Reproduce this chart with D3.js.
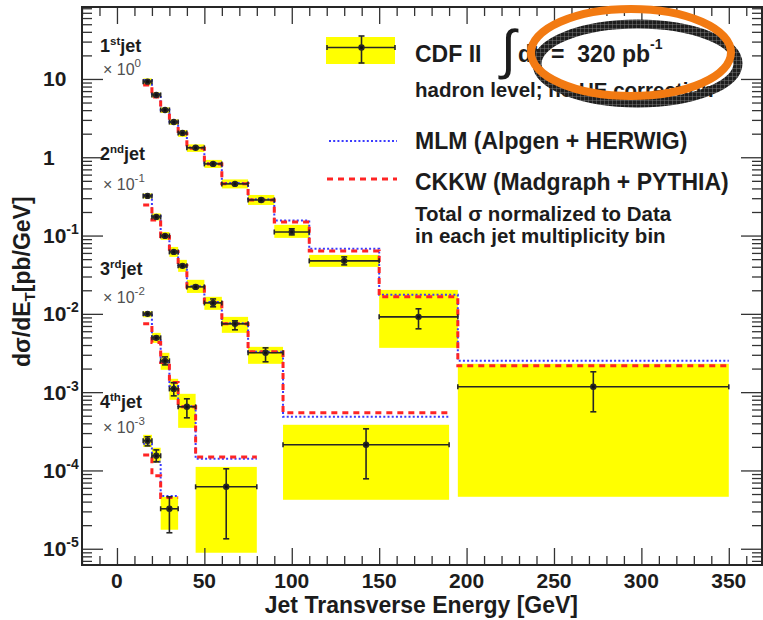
<!DOCTYPE html>
<html>
<head>
<meta charset="utf-8">
<script src="https://cdn.jsdelivr.net/npm/d3@7"></script>
<style>
    body { margin: 0; background: #fff; }
    svg { display: block; font-family: 'Liberation Sans', Arial, Helvetica, sans-serif; }
</style>
</head>
<body>
<svg width="763" height="620"></svg>
<script>
// one row per bin: [ET low, ET high, data, stat low, stat high, syst low, syst high, MLM, CKKW]
const jet1Bins = [
    [15, 20, 9.24, 9.05, 9.43, 8.26, 10.15, 9.7, 8.4],
    [20, 25, 6.25, 6.12, 6.38, 5.81, 6.72, 6.43, 5.89],
    [25, 30, 4.02, 3.94, 4.10, 3.68, 4.33, 4.05, 3.95],
    [30, 35, 2.82, 2.76, 2.88, 2.59, 3.04, 2.85, 2.80],
    [35, 40, 2.04, 2.00, 2.08, 1.82, 2.23, 2.05, 2.00],
    [40, 50, 1.32, 1.29, 1.35, 1.17, 1.46, 1.33, 1.30],
    [50, 60, 0.822, 0.80, 0.845, 0.731, 0.925, 0.84, 0.82],
    [60, 75, 0.457, 0.443, 0.471, 0.40, 0.521, 0.47, 0.46],
    [75, 90, 0.285, 0.272, 0.298, 0.246, 0.330, 0.29, 0.285],
    [90, 110, 0.111, 0.102, 0.122, 0.0934, 0.137, 0.156, 0.149],
    [110, 150, 0.0475, 0.0422, 0.0534, 0.0398, 0.0566, 0.0676, 0.0637],
    [150, 195, 0.00915, 0.00644, 0.0116, 0.00368, 0.0202, 0.0175, 0.0165],
    [195, 350, 0.00117, 0.000561, 0.00182, 0.0000461, 0.0023, 0.00251, 0.00217]
];

const jet2Bins = [
    [15, 20, 0.321, 0.314, 0.328, 0.298, 0.345, 0.33, 0.246],
    [20, 25, 0.173, 0.169, 0.177, 0.156, 0.192, 0.176, 0.158],
    [25, 30, 0.099, 0.096, 0.102, 0.088, 0.111, 0.10, 0.097],
    [30, 35, 0.0618, 0.0598, 0.0638, 0.0534, 0.0716, 0.063, 0.062],
    [35, 40, 0.041, 0.0395, 0.0425, 0.0344, 0.0489, 0.042, 0.041],
    [40, 50, 0.0221, 0.0212, 0.023, 0.0185, 0.0272, 0.0225, 0.022],
    [50, 60, 0.0138, 0.0123, 0.0155, 0.01125, 0.0165, 0.0142, 0.014],
    [60, 75, 0.00745, 0.00625, 0.00814, 0.00572, 0.00915, 0.0076, 0.0075],
    [75, 95, 0.00318, 0.00244, 0.00368, 0.0023, 0.00379, 0.00327, 0.00327],
    [95, 190, 0.000213, 0.0000782, 0.00034, 0.0000422, 0.000383, 0.000484, 0.000545]
];

const jet3Bins = [
    [15, 20, 0.0100, 0.0097, 0.0103, 0.00902, 0.01076, 0.0097, 0.00745],
    [20, 25, 0.00494, 0.00474, 0.00514, 0.00426, 0.00572, 0.0048, 0.0043],
    [25, 30, 0.00251, 0.00223, 0.00282, 0.00193, 0.00318, 0.0024, 0.0024],
    [30, 35, 0.0011, 0.000897, 0.00132, 0.000798, 0.00148, 0.0012, 0.00133],
    [35, 45, 0.00065, 0.00047, 0.000822, 0.00035, 0.000952, 0.00066, 0.00065],
    [45, 80, 0.0000618, 0.0000134, 0.000105, 0.00000889, 0.000111, 0.000141, 0.000149]
];

const jet4Bins = [
    [15, 20, 0.000239, 0.000206, 0.000269, 0.0002, 0.000285, 0.00022, 0.000158],
    [20, 25, 0.000154, 0.000129, 0.000183, 0.000125, 0.000195, 0.000129, 0.0000855],
    [25, 35, 0.0000324, 0.000016, 0.0000461, 0.0000175, 0.0000461, 0.0000472, 0.000045]
];

// [number, ordinal suffix, scale text, scale exponent]
const jetLabels = [
    ['1', 'st', '\u00d7 10', '0'],
    ['2', 'nd', '\u00d7 10', '-1'],
    ['3', 'rd', '\u00d7 10', '-2'],
    ['4', 'th', '\u00d7 10', '-3']
];

const xMajorTicks = [0, 50, 100, 150, 200, 250, 300, 350];
const yMajorExponents = [1, 0, -1, -2, -3, -4, -5];

const legendMC = ['MLM (Alpgen + HERWIG)', 'CKKW (Madgraph + PYTHIA)'];
const legendNotes = ['Total \u03c3 normalized to Data', 'in each jet multiplicity bin'];

(() => {

    const svg = d3.select('svg');
    const ink = '#1c1c1c';

    const x = d3.scaleLinear().domain([-20, 369]).range([82, 762]);
    const y = d3.scaleLog().domain([6.2e-6, 83]).range([565, 7]);

    const allJets = [jet1Bins, jet2Bins, jet3Bins, jet4Bins];

    // hatch for the shadow ring of the hand drawn ellipse
    const pat = svg.append('defs').append('pattern')
            .attr('id', 'hatch')
            .attr('patternUnits', 'userSpaceOnUse')
            .attr('width', 4)
            .attr('height', 4);
    pat.append('rect').attr('width', 4).attr('height', 4).attr('fill', '#1e1e1e');
    pat.append('path').attr('d', 'M0,0H4M0,0V4').attr('stroke', '#8a8a8a').attr('stroke-width', 0.8);

    // systematic bands
    const bands = svg.append('g');
    allJets.forEach(bins => {
        bands.selectAll(null)
                .data(bins)
                .enter().append('rect')
                .attr('x', d => x(d[0]))
                .attr('width', d => x(d[1]) - x(d[0]))
                .attr('y', d => y(d[6]))
                .attr('height', d => y(d[5]) - y(d[6]))
                .attr('fill', '#ffff00');
    });

    // MC step histograms
    const stepLine = d3.line()
            .x(d => x(d[0]))
            .y(d => y(d[1]));

    const stepPoints = (bins, col) => {
        const pts = [];
        bins.forEach(b => {
            pts.push([b[0], b[col]]);
            pts.push([b[1], b[col]]);
        });
        return pts;
    };

    const mcStyles = [
        {col: 7, color: '#3a3aff', width: 2, dash: '2,2.2'},
        {col: 8, color: '#ff2424', width: 3, dash: '6,5'}
    ];

    mcStyles.forEach(s => {
        allJets.forEach(bins => {
            svg.append('path')
                    .attr('d', stepLine(stepPoints(bins, s.col)))
                    .attr('fill', 'none')
                    .attr('stroke', s.color)
                    .attr('stroke-width', s.width)
                    .attr('stroke-dasharray', s.dash);
        });
    });

    // data points with error bars
    const drawPoint = (g, cx, cy, xl, xr, yt, yb) => {
        g.append('line').attr('x1', xl).attr('x2', xr).attr('y1', cy).attr('y2', cy);
        g.append('line').attr('x1', xl).attr('x2', xl).attr('y1', cy - 2.5).attr('y2', cy + 2.5);
        g.append('line').attr('x1', xr).attr('x2', xr).attr('y1', cy - 2.5).attr('y2', cy + 2.5);
        g.append('line').attr('x1', cx).attr('x2', cx).attr('y1', yt).attr('y2', yb);
        g.append('line').attr('x1', cx - 3).attr('x2', cx + 3).attr('y1', yt).attr('y2', yt);
        g.append('line').attr('x1', cx - 3).attr('x2', cx + 3).attr('y1', yb).attr('y2', yb);
        g.append('circle').attr('cx', cx).attr('cy', cy).attr('r', 2.4).attr('fill', '#111');
    };

    const pointsG = svg.append('g')
            .attr('stroke', '#262626')
            .attr('stroke-width', 1.6);

    allJets.forEach(bins => {
        bins.forEach(b => {
            drawPoint(pointsG, x((b[0] + b[1]) / 2), y(b[2]),
                    x(b[0]), x(b[1]), y(b[4]), y(b[3]));
        });
    });

    // axes, ticks pointing inward
    const xMinor = d3.range(-20, 370, 10).filter(v => v % 50 !== 0);
    const yMinor = [];
    d3.range(-6, 2).forEach(e => {
        d3.range(2, 10).forEach(k => {
            const v = k * Math.pow(10, e);
            if (v > 6.2e-6 && v < 83) {
                yMinor.push(v);
            }
        });
    });
    const yMajor = yMajorExponents.map(e => Math.pow(10, e));

    const axisSpecs = [
        [d3.axisBottom(x), xMajorTicks, -17, 'translate(0,565)'],
        [d3.axisBottom(x), xMinor, -9, 'translate(0,565)'],
        [d3.axisTop(x), xMajorTicks, -17, 'translate(0,7)'],
        [d3.axisTop(x), xMinor, -9, 'translate(0,7)'],
        [d3.axisLeft(y), yMajor, -21, 'translate(82,0)'],
        [d3.axisLeft(y), yMinor, -10, 'translate(82,0)'],
        [d3.axisRight(y), yMajor, -21, 'translate(762,0)'],
        [d3.axisRight(y), yMinor, -10, 'translate(762,0)']
    ];

    axisSpecs.forEach(a => {
        const g = svg.append('g')
                .attr('transform', a[3])
                .call(a[0].tickValues(a[1]).tickSize(a[2]).tickFormat(''));
        g.select('.domain').remove();
        g.selectAll('line').attr('stroke', '#333').attr('stroke-width', 1.3);
    });

    svg.append('rect')
            .attr('x', 82)
            .attr('y', 7)
            .attr('width', 680)
            .attr('height', 558)
            .attr('fill', 'none')
            .attr('stroke', '#262626')
            .attr('stroke-width', 2);

    // tick labels
    svg.append('g')
            .selectAll('text')
            .data(xMajorTicks)
            .enter().append('text')
            .attr('x', d => x(d))
            .attr('y', 588)
            .attr('text-anchor', 'middle')
            .attr('font-size', 21)
            .attr('font-weight', 'bold')
            .attr('fill', ink)
            .text(d => d);

    const yLab = svg.append('g')
            .selectAll('text')
            .data(yMajorExponents)
            .enter().append('text')
            .attr('x', 43)
            .attr('y', e => y(Math.pow(10, e)) + 7.5)
            .attr('font-size', 21)
            .attr('font-weight', 'bold')
            .attr('fill', ink);
    yLab.append('tspan').text(e => e === 0 ? '1' : '10');
    yLab.filter(e => e < 0).append('tspan')
            .attr('dy', -9)
            .attr('font-size', 14)
            .text(e => e);

    // axis titles
    svg.append('text')
            .attr('x', 578)
            .attr('y', 613)
            .attr('text-anchor', 'end')
            .attr('font-size', 23)
            .attr('font-weight', 'bold')
            .attr('fill', ink)
            .text('Jet Transverse Energy [GeV]');

    const yTitle = svg.append('text')
            .attr('transform', 'translate(30,367) rotate(-90)')
            .attr('font-size', 23)
            .attr('font-weight', 'bold')
            .attr('fill', ink);
    yTitle.append('tspan').text('d\u03c3/dE');
    yTitle.append('tspan').attr('dy', 5).attr('font-size', 15).text('T');
    yTitle.append('tspan').attr('dy', -5).text('[pb/GeV]');

    // jet multiplicity labels
    const jetLabelY = [[52, 75], [160, 190], [275, 303], [408, 433]];
    jetLabels.forEach((l, i) => {
        const t = svg.append('text')
                .attr('x', 100)
                .attr('y', jetLabelY[i][0])
                .attr('font-size', 18)
                .attr('font-weight', 'bold')
                .attr('fill', ink);
        t.append('tspan').text(l[0]);
        t.append('tspan').attr('dy', -7).attr('font-size', 11.5).text(l[1]);
        t.append('tspan').attr('dy', 7).text('jet');

        const s = svg.append('text')
                .attr('x', 103)
                .attr('y', jetLabelY[i][1])
                .attr('font-size', 16)
                .attr('fill', '#505050');
        s.append('tspan').text(l[2]);
        s.append('tspan').attr('dy', -8).attr('font-size', 11.5).text(l[3]);
    });

    // legend
    const leg = svg.append('g');
    leg.append('rect')
            .attr('x', 326).attr('y', 37)
            .attr('width', 69).attr('height', 27)
            .attr('fill', '#ffff00');
    const legPoint = leg.append('g')
            .attr('stroke', '#262626')
            .attr('stroke-width', 1.6);
    drawPoint(legPoint, 361.5, 47.5, 327, 395, 36, 63);

    leg.append('line')
            .attr('x1', 329).attr('x2', 397)
            .attr('y1', 141).attr('y2', 141)
            .attr('stroke', mcStyles[0].color)
            .attr('stroke-width', mcStyles[0].width)
            .attr('stroke-dasharray', mcStyles[0].dash);
    leg.append('line')
            .attr('x1', 327).attr('x2', 397)
            .attr('y1', 179).attr('y2', 179)
            .attr('stroke', mcStyles[1].color)
            .attr('stroke-width', mcStyles[1].width)
            .attr('stroke-dasharray', mcStyles[1].dash);

    const legText = (txt, yy, size) => leg.append('text')
            .attr('x', 415)
            .attr('y', yy)
            .attr('font-size', size)
            .attr('font-weight', 'bold')
            .attr('fill', ink)
            .text(txt);

    legText('CDF II', 62, 23);

    // integral sign, narrow so it does not run into the dt
    leg.append('text')
            .attr('x', 501)
            .attr('y', 68)
            .attr('font-family', 'Liberation Sans')
            .attr('font-size', 54)
            .attr('fill', ink)
            .text('\u222b');
    const lumi = leg.append('text')
            .attr('x', 518)
            .attr('y', 62)
            .attr('font-size', 23)
            .attr('font-weight', 'bold')
            .attr('fill', ink)
            .attr('xml:space', 'preserve');
    lumi.append('tspan').text('dt');
    lumi.append('tspan').attr('x', 551).text('=  320 pb');
    lumi.append('tspan').attr('dy', -13).attr('font-size', 14).text('-1');

    legText('hadron level; no UE correction', 97, 20.5);
    legText(legendMC[0], 148.5, 23);
    legText(legendMC[1], 189.5, 23);
    legText(legendNotes[0], 220.5, 20.5);
    legText(legendNotes[1], 243, 20.5);

    // hand drawn highlight over the luminosity
    svg.append('ellipse')
            .attr('cx', 637.5).attr('cy', 63.5)
            .attr('rx', 100.5).attr('ry', 39.5)
            .attr('fill', 'none')
            .attr('stroke', 'url(#hatch)')
            .attr('stroke-width', 9);
    svg.append('ellipse')
            .attr('cx', 631).attr('cy', 52.5)
            .attr('rx', 100).attr('ry', 43.5)
            .attr('fill', 'none')
            .attr('stroke', '#f27a12')
            .attr('stroke-width', 8);

})();
</script>
</body>
</html>
